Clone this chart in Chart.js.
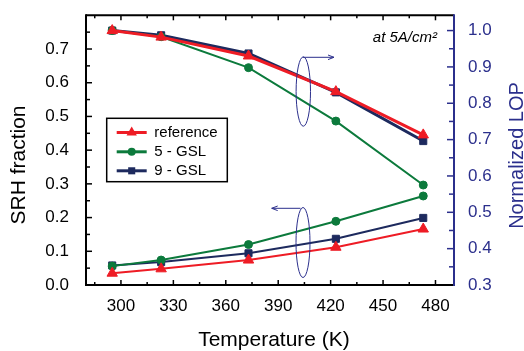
<!DOCTYPE html>
<html><head><meta charset="utf-8">
<script src="https://cdn.jsdelivr.net/npm/chart.js@4/dist/chart.umd.min.js"></script>
<style>html,body{margin:0;padding:0;background:#fff}canvas{display:block}</style>
</head><body>
<canvas id="c" width="524" height="351"></canvas>
<script>
// ---- data ----
const temperatures = [295, 323, 373, 423, 473];
const lopReference = [1.000, 0.982, 0.930, 0.832, 0.713];
const lop5GSL      = [1.000, 0.983, 0.898, 0.751, 0.575];
const lop9GSL      = [1.000, 0.987, 0.937, 0.830, 0.696];
const srhReference = [0.035, 0.048, 0.074, 0.112, 0.166];
const srh5GSL      = [0.056, 0.074, 0.120, 0.189, 0.264];
const srh9GSL      = [0.058, 0.068, 0.094, 0.137, 0.199];
const seriesNames  = ['reference', '5 - GSL', '9 - GSL'];
const xTickLabels   = [300, 330, 360, 390, 420, 450, 480];
const srhTickLabels = [0.0, 0.1, 0.2, 0.3, 0.4, 0.5, 0.6, 0.7];
const lopTickLabels = [0.3, 0.4, 0.5, 0.6, 0.7, 0.8, 0.9, 1.0];
const xTitle = 'Temperature (K)';
const yLeftTitle = 'SRH fraction';
const yRightTitle = 'Normalized LOP';
const noteText = 'at 5A/cm²';

const RED = '#ee1c25', GREEN = '#0c7a3c', NAVY = '#1d2a5e', AXISBLUE = '#2b2f8c';
const FONT = "'Liberation Sans', Arial, sans-serif";

const pts = (ys) => temperatures.map((t, i) => ({x: t, y: ys[i]}));
function ds(label, ys, axis, color, style, radius, width, order) {
  return {label, data: pts(ys), yAxisID: axis, borderColor: color, backgroundColor: color,
    pointStyle: style, pointRadius: radius, pointBorderWidth: 1, pointBackgroundColor: color,
    pointBorderColor: color, borderWidth: width, tension: 0, order};
}
const styles = [
  {color: RED, style: 'triangle', r: 6},
  {color: GREEN, style: 'circle', r: 4},
  {color: NAVY, style: 'rect', r: 5}
];

const datasets = [
  ds(seriesNames[2], lop9GSL, 'yLOP', NAVY, 'rect', 5, 3, 6),
  ds(seriesNames[1], lop5GSL, 'yLOP', GREEN, 'circle', 4, 2, 5),
  ds(seriesNames[0], lopReference, 'yLOP', RED, 'triangle', 6, 3, 4),
  ds(seriesNames[2], srh9GSL, 'ySRH', NAVY, 'rect', 5, 2, 3),
  ds(seriesNames[1], srh5GSL, 'ySRH', GREEN, 'circle', 4, 2, 2),
  ds(seriesNames[0], srhReference, 'ySRH', RED, 'triangle', 6, 2, 1)
];

function line(ctx, x1, y1, x2, y2) { ctx.beginPath(); ctx.moveTo(x1, y1); ctx.lineTo(x2, y2); ctx.stroke(); }
function marker(ctx, style, x, y, r, color) {
  ctx.fillStyle = color; ctx.beginPath();
  if (style === 'triangle') {
    for (let k = 0; k < 3; k++) { const a = k * 2 * Math.PI / 3; const px = x + Math.sin(a) * r, py = y - Math.cos(a) * r; k ? ctx.lineTo(px, py) : ctx.moveTo(px, py); }
    ctx.closePath();
  } else if (style === 'circle') { ctx.arc(x, y, r, 0, Math.PI * 2); }
  else { const s = r * Math.SQRT1_2; ctx.rect(x - s, y - s, 2 * s, 2 * s); }
  ctx.fill();
}

const deco = {
  id: 'deco',
  afterDraw(chart) {
    const ctx = chart.ctx;
    const {left, right, top, bottom} = chart.chartArea;
    const xs = chart.scales.x, yl = chart.scales.ySRH, yr = chart.scales.yLOP;
    ctx.save();
    // tick marks (major + minor)
    ctx.lineWidth = 1.5; ctx.strokeStyle = '#000';
    for (let i = 0; ; i++) {
      const v = 285 + i * 15; if (v > xs.max) break;
      const px = xs.getPixelForValue(v); const len = (v % 30 === 0) ? 5 : 3;
      line(ctx, px, bottom, px, bottom - len); line(ctx, px, top, px, top + len);
    }
    for (let i = 0; ; i++) {
      const v = i * 0.05; if (v > yl.max - 0.01) break;
      const py = yl.getPixelForValue(v); const len = i % 2 === 0 ? 6 : 4;
      line(ctx, left, py, left + len, py);
    }
    ctx.strokeStyle = AXISBLUE;
    for (let i = 0; ; i++) {
      const v = 0.3 + i * 0.05; if (v > yr.max) break;
      const py = yr.getPixelForValue(v); const len = i % 2 === 0 ? 7 : 5;
      line(ctx, right - len, py, right + 1, py);
    }
    // frame
    ctx.lineWidth = 2; ctx.strokeStyle = '#000';
    line(ctx, left, top - 1, left, bottom + 1);
    line(ctx, left, top, right, top);
    line(ctx, left, bottom, right, bottom);
    ctx.strokeStyle = AXISBLUE;
    line(ctx, right, top - 1, right, bottom + 1);

    // axis titles
    ctx.fillStyle = '#000'; ctx.textBaseline = 'middle'; ctx.textAlign = 'center';
    ctx.font = '21px ' + FONT;
    ctx.fillText(xTitle, 274, 340.5);
    ctx.save(); ctx.translate(19, 165); ctx.rotate(-Math.PI / 2); ctx.fillText(yLeftTitle, 0, 0); ctx.restore();
    ctx.fillStyle = AXISBLUE; ctx.font = '20px ' + FONT;
    ctx.save(); ctx.translate(517, 155.5); ctx.rotate(-Math.PI / 2); ctx.fillText(yRightTitle, 0, 0); ctx.restore();

    // note
    ctx.fillStyle = '#000'; ctx.font = 'italic 15px ' + FONT; ctx.textAlign = 'right'; ctx.textBaseline = 'alphabetic';
    ctx.fillText(noteText, 437, 42);

    // legend
    const lx = 106.7, ly = 118.3, lw = 120.6, lh = 63.4;
    ctx.fillStyle = '#fff'; ctx.fillRect(lx, ly, lw, lh);
    ctx.lineWidth = 1.5; ctx.strokeStyle = '#000'; ctx.strokeRect(lx, ly, lw, lh);
    const rows = [132.5, 151.8, 170.8];
    ctx.font = '15px ' + FONT; ctx.textAlign = 'left'; ctx.textBaseline = 'middle';
    seriesNames.forEach((name, i) => {
      const s = styles[i], y = rows[i];
      ctx.strokeStyle = s.color; ctx.lineWidth = 3; line(ctx, 116.7, y, 146.7, y);
      marker(ctx, s.style, 131.7, y, s.r, s.color);
      ctx.fillStyle = '#000'; ctx.fillText(name, 154.3, y + 0.5);
    });

    // ellipse + arrow annotations
    ctx.strokeStyle = AXISBLUE; ctx.lineWidth = 1;
    ctx.beginPath(); ctx.ellipse(303.3, 91.5, 7.2, 34.7, 0, 0, Math.PI * 2); ctx.stroke();
    line(ctx, 303, 57.3, 334, 57.3); line(ctx, 334, 57.3, 328, 55); line(ctx, 334, 57.3, 328, 59.6);
    ctx.beginPath(); ctx.ellipse(303, 242.5, 7, 35, 0, 0, Math.PI * 2); ctx.stroke();
    line(ctx, 300.5, 208.3, 271.7, 208.3); line(ctx, 271.7, 208.3, 277.7, 206); line(ctx, 271.7, 208.3, 277.7, 210.6);
    ctx.restore();
  }
};

const zeroPad = (s) => { s.paddingTop = 0; s.paddingBottom = 0; s.paddingLeft = 0; s.paddingRight = 0; };
const tickFont = {family: FONT, size: 17};
new Chart(document.getElementById('c'), {
  type: 'line',
  data: {datasets},
  options: {
    responsive: false, animation: false, devicePixelRatio: 1,
    layout: {padding: {top: 15.3, left: 0, right: 0, bottom: 0}},
    plugins: {legend: {display: false}, tooltip: {enabled: false}},
    scales: {
      x: {type: 'linear', min: 280, max: 490.6,
        grid: {display: false, drawTicks: false}, border: {display: false},
        afterBuildTicks: (s) => { s.ticks = xTickLabels.map(v => ({value: v})); },
        afterFit: (s) => { s.height = 66; zeroPad(s); },
        ticks: {font: tickFont, color: '#000', padding: 11, maxRotation: 0, autoSkip: false, callback: (v) => String(v)}},
      ySRH: {type: 'linear', position: 'left', min: 0, max: 0.8,
        grid: {display: false, drawTicks: false}, border: {display: false},
        afterBuildTicks: (s) => { s.ticks = srhTickLabels.map(v => ({value: v})); },
        afterFit: (s) => { s.width = 86; zeroPad(s); },
        ticks: {font: tickFont, color: '#000', padding: 17, autoSkip: false, callback: (v) => Number(v).toFixed(1)}},
      yLOP: {type: 'linear', position: 'right', min: 0.3, max: 1.042,
        grid: {display: false, drawTicks: false}, border: {display: false},
        afterBuildTicks: (s) => { s.ticks = lopTickLabels.map(v => ({value: v})); },
        afterFit: (s) => { s.width = 70; zeroPad(s); },
        ticks: {font: tickFont, color: AXISBLUE, padding: 14, autoSkip: false, callback: (v) => Number(v).toFixed(1)}}
    }
  },
  plugins: [deco]
});
</script>
</body></html>
